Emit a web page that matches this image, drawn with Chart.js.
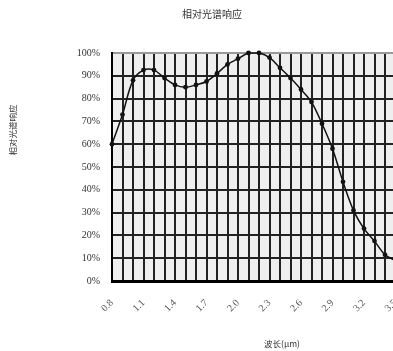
<!DOCTYPE html>
<html>
<head>
<meta charset="utf-8">
<script src="https://cdn.jsdelivr.net/npm/chart.js@4/dist/chart.umd.min.js"></script>
<style>
  html, body { margin: 0; padding: 0; background: #fff; overflow: hidden; }
  #wrap { width: 393px; height: 351px; overflow: hidden; position: relative; }
  canvas { display: block; }
</style>
</head>
<body>
<div id="wrap"><canvas id="c" width="400" height="351"></canvas></div>
<script>
// Wavelength samples (μm), one every 0.1
const wavelengths = ['0.8','0.9','1.0','1.1','1.2','1.3','1.4','1.5','1.6','1.7',
                     '1.8','1.9','2.0','2.1','2.2','2.3','2.4','2.5','2.6','2.7',
                     '2.8','2.9','3.0','3.1','3.2','3.3','3.4','3.5'];
// Relative spectral response (%)
const response = [60, 73, 88, 92.5, 92.5, 89, 86, 85, 86, 87.5,
                  91, 95, 97.5, 100, 100, 98, 93.5, 89, 84, 78.5,
                  69, 58, 43.5, 31, 23, 17.5, 11.5, 9];
// Only every third wavelength gets a label
const labelEvery = 3;
const yTicks = [0, 10, 20, 30, 40, 50, 60, 70, 80, 90, 100];

const chartTitle = '相对光谱响应';
const yTitle = '相对光谱响应';
const xTitle = '波长(μm)';

const serif = '"Liberation Serif", "DejaVu Serif", serif';
const cjk = '"Noto Sans CJK SC", sans-serif';

const plotBackground = {
  id: 'plotBackground',
  beforeDraw(chart) {
    const { ctx, chartArea: a } = chart;
    ctx.save();
    ctx.fillStyle = '#efefef';
    ctx.fillRect(a.left, a.top, a.right - a.left, a.bottom - a.top);
    ctx.restore();
  }
};

const titles = {
  id: 'titles',
  afterDraw(chart) {
    const { ctx, chartArea: a } = chart;
    ctx.save();
    ctx.fillStyle = '#333';
    ctx.textAlign = 'center';
    ctx.textBaseline = 'middle';
    ctx.font = '10px ' + cjk;
    ctx.fillText(chartTitle, a.left + 100, 14);
    ctx.font = '8.5px ' + cjk;
    ctx.fillText(xTitle, a.left + 170, 344);
    ctx.translate(13, 130);
    ctx.rotate(-Math.PI / 2);
    ctx.font = '8.5px ' + cjk;
    ctx.fillText(yTitle, 0, 0);
    ctx.restore();
  }
};

new Chart(document.getElementById('c'), {
  type: 'line',
  data: {
    labels: wavelengths,
    datasets: [{
      data: response,
      borderColor: '#111',
      borderWidth: 1.5,
      backgroundColor: '#111',
      pointRadius: 2.4,
      pointBorderWidth: 0,
      pointBackgroundColor: '#111',
      tension: 0.35,
      fill: false,
      clip: false
    }]
  },
  options: {
    responsive: false,
    animation: false,
    devicePixelRatio: 1,
    layout: { padding: { top: 53, right: 4.5, left: 0, bottom: 0 } },
    plugins: { legend: { display: false }, title: { display: false }, tooltip: { enabled: false } },
    scales: {
      x: {
        type: 'category',
        offset: false,
        afterFit(scale) {
          scale.height = 70;
          scale.paddingLeft = 0;
          scale.paddingRight = 0;
        },
        border: { display: true, color: '#000', width: 3 },
        grid: { color: '#222', lineWidth: 2, drawTicks: false, offset: false },
        ticks: {
          autoSkip: false,
          minRotation: 45,
          maxRotation: 45,
          padding: 16,
          color: '#555',
          font: { family: serif, size: 10 },
          callback(value, index) {
            return index % labelEvery === 0 ? wavelengths[index] : '';
          }
        }
      },
      y: {
        min: 0,
        max: 100,
        afterFit(scale) {
          scale.width = 112;
          scale.paddingTop = 0;
          scale.paddingBottom = 0;
        },
        afterBuildTicks(scale) { scale.ticks = yTicks.map(v => ({ value: v })); },
        border: { display: true, color: '#000', width: 2 },
        grid: {
          color: ctx => (ctx.tick && ctx.tick.value === 100) ? '#999' : '#222',
          lineWidth: 2,
          drawTicks: false
        },
        ticks: {
          padding: 12,
          color: '#333',
          font: { family: serif, size: 10 },
          callback: v => v + '%'
        }
      }
    }
  },
  plugins: [plotBackground, titles]
});
</script>
</body>
</html>
